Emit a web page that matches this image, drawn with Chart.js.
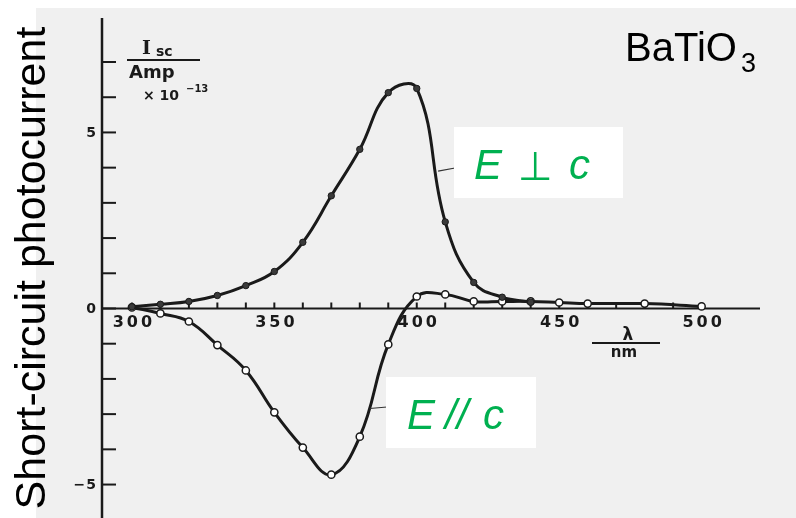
<!DOCTYPE html>
<html>
<head>
<meta charset="utf-8">
<script src="https://cdn.jsdelivr.net/npm/chart.js@4"></script>
<style>
  html, body { margin: 0; padding: 0; background: #fff; }
</style>
</head>
<body>
<canvas id="chart" width="796" height="518"></canvas>
<script>
// wavelength in nm, short-circuit photocurrent in 1e-13 A
const wavelengthPerp = [300, 310, 320, 330, 340, 350, 360, 370, 380, 390, 400, 410, 420, 430, 440];
const currentPerp = [0.05, 0.12, 0.2, 0.37, 0.65, 1.05, 1.88, 3.2, 4.52, 6.13, 6.25, 2.46, 0.74, 0.32, 0.18];

const wavelengthPar = [300, 310, 320, 330, 340, 350, 360, 370, 380, 390, 400, 410, 420, 430, 440, 450, 460, 480, 500];
const currentPar = [0.03, -0.14, -0.37, -1.04, -1.76, -2.95, -3.95, -4.72, -3.64, -1.02, 0.34, 0.4, 0.2, 0.2, 0.2, 0.17, 0.14, 0.14, 0.06];

const xTickLabels = [300, 350, 400, 450, 500];
const yTickLabels = [-5, 0, 5];

const ink = "#1a1a1a";
const green = "#00b050";

const toPoints = (xs, ys) => xs.map((x, i) => ({ x: x, y: ys[i] }));

const paperPlugin = {
  id: "paper",
  beforeDraw(chart) {
    const ctx = chart.ctx;
    ctx.save();
    ctx.fillStyle = "#fff";
    ctx.fillRect(0, 0, chart.width, chart.height);
    ctx.fillStyle = "#f0f0f0";
    ctx.fillRect(36, 8, chart.width - 36, chart.height - 8);
    ctx.restore();
  },
  beforeDatasetsDraw(chart) {
    const { ctx, chartArea } = chart;
    const xs = chart.scales.x, ys = chart.scales.y;
    const x0 = chartArea.left;
    const y0 = ys.getPixelForValue(0);
    ctx.save();
    ctx.strokeStyle = ink;
    ctx.lineCap = "butt";

    // y axis line + ticks
    ctx.lineWidth = 2.5;
    ctx.beginPath();
    ctx.moveTo(x0, chartArea.top);
    ctx.lineTo(x0, chartArea.bottom);
    ctx.stroke();
    ctx.lineWidth = 2;
    for (let v = -5; v <= 7; v++) {
      const py = ys.getPixelForValue(v);
      ctx.beginPath();
      ctx.moveTo(x0, py);
      ctx.lineTo(x0 + 14, py);
      ctx.stroke();
    }

    // x axis line at y = 0 + ticks
    ctx.lineWidth = 2;
    ctx.beginPath();
    ctx.moveTo(x0, y0);
    ctx.lineTo(chartArea.right, y0);
    ctx.stroke();
    for (let w = 300; w <= 500; w += 10) {
      const px = xs.getPixelForValue(w);
      ctx.beginPath();
      ctx.moveTo(px, y0);
      ctx.lineTo(px, y0 - 6);
      ctx.stroke();
    }

    // tick labels
    ctx.fillStyle = ink;
    ctx.font = "bold 16px 'DejaVu Sans'";
    ctx.letterSpacing = "3px";
    ctx.textAlign = "center";
    ctx.textBaseline = "middle";
    xTickLabels.forEach(w => {
      ctx.fillText(String(w), xs.getPixelForValue(w) + 2, y0 + 14);
    });
    ctx.letterSpacing = "1px";
    ctx.font = "bold 14px 'DejaVu Sans'";
    ctx.textAlign = "right";
    yTickLabels.forEach(v => {
      const t = v < 0 ? "\u2212" + Math.abs(v) : String(v);
      ctx.fillText(t, x0 - 5, ys.getPixelForValue(v) + 1);
    });
    ctx.letterSpacing = "0px";

    // unit labels (as in the scanned plot)
    ctx.textAlign = "left";
    ctx.textBaseline = "alphabetic";
    ctx.font = "bold 19px 'DejaVu Serif'";
    ctx.fillText("I", 142, 54);
    ctx.font = "bold 14px 'DejaVu Sans'";
    ctx.fillText("sc", 156, 56);
    ctx.lineWidth = 2;
    ctx.beginPath();
    ctx.moveTo(127, 60);
    ctx.lineTo(200, 60);
    ctx.stroke();
    ctx.font = "bold 18px 'DejaVu Sans'";
    ctx.fillText("Amp", 129, 78);
    ctx.font = "bold 14px 'DejaVu Sans'";
    ctx.fillText("\u00d7 10", 143, 100);
    ctx.font = "bold 10px 'DejaVu Sans'";
    ctx.fillText("\u221213", 186, 92);

    ctx.textAlign = "center";
    ctx.font = "bold 17px 'DejaVu Sans'";
    ctx.fillText("\u03bb", 628, 340);
    ctx.beginPath();
    ctx.moveTo(592, 343);
    ctx.lineTo(660, 343);
    ctx.stroke();
    ctx.font = "bold 15px 'DejaVu Sans'";
    ctx.fillText("nm", 624, 357);
    ctx.restore();
  },
  afterDraw(chart) {
    const ctx = chart.ctx;
    const xs = chart.scales.x, ys = chart.scales.y;
    ctx.save();

    // y title
    ctx.fillStyle = "#000";
    ctx.font = "43px 'Liberation Sans', Arial, sans-serif";
    ctx.textAlign = "center";
    ctx.textBaseline = "alphabetic";
    ctx.translate(45, 268);
    ctx.rotate(-Math.PI / 2);
    ctx.fillText("Short-circuit photocurrent", 0, 0);
    ctx.setTransform(1, 0, 0, 1, 0, 0);

    // material
    ctx.textAlign = "left";
    ctx.font = "40px 'Liberation Sans', Arial, sans-serif";
    ctx.fillText("BaTiO", 625, 61);
    ctx.font = "27px 'Liberation Sans', Arial, sans-serif";
    ctx.fillText("3", 741, 72);

    // leader lines
    ctx.strokeStyle = "#333";
    ctx.lineWidth = 1.2;
    ctx.beginPath();
    ctx.moveTo(xs.getPixelForValue(407.5), ys.getPixelForValue(3.9));
    ctx.lineTo(455, 168);
    ctx.moveTo(xs.getPixelForValue(383.5), ys.getPixelForValue(-2.84));
    ctx.lineTo(387, 407);
    ctx.stroke();

    // label boxes
    ctx.fillStyle = "#fff";
    ctx.fillRect(454, 127, 169, 71);
    ctx.fillRect(386, 377, 150, 71);

    ctx.fillStyle = green;
    ctx.font = "italic 42px 'Liberation Sans', Arial, sans-serif";
    ctx.fillText("E", 474, 179);
    ctx.fillText("c", 569, 179);
    ctx.fillText("E", 407, 429);
    ctx.fillText("c", 483, 429);
    ctx.font = "40px 'DejaVu Sans'";
    ctx.fillText("\u22a5", 518, 180);
    ctx.font = "italic 42px 'Liberation Sans', Arial, sans-serif";
    ctx.fillText("//", 445, 429);
    ctx.restore();
  }
};

new Chart(document.getElementById("chart"), {
  type: "scatter",
  data: {
    datasets: [
      {
        label: "E \u22a5 c",
        data: toPoints(wavelengthPerp, currentPerp),
        showLine: true,
        tension: 0.42,
        borderColor: ink,
        borderWidth: 3,
        pointRadius: 3.2,
        pointBackgroundColor: "#3a3a3a",
        pointBorderColor: ink,
        pointBorderWidth: 1
      },
      {
        label: "E // c",
        data: toPoints(wavelengthPar, currentPar),
        showLine: true,
        tension: 0.42,
        borderColor: ink,
        borderWidth: 3,
        pointRadius: 3.6,
        pointBackgroundColor: "#fff",
        pointBorderColor: ink,
        pointBorderWidth: 1.5
      }
    ]
  },
  options: {
    responsive: false,
    devicePixelRatio: 1,
    animation: false,
    layout: { autoPadding: false, padding: { left: 102, right: 36, top: 18, bottom: 0 } },
    scales: {
      x: { type: "linear", min: 289.5, max: 520.5, display: false },
      y: { type: "linear", min: -5.95, max: 8.25, display: false }
    },
    plugins: {
      legend: { display: false },
      tooltip: { enabled: false }
    }
  },
  plugins: [paperPlugin]
});
</script>
</body>
</html>
